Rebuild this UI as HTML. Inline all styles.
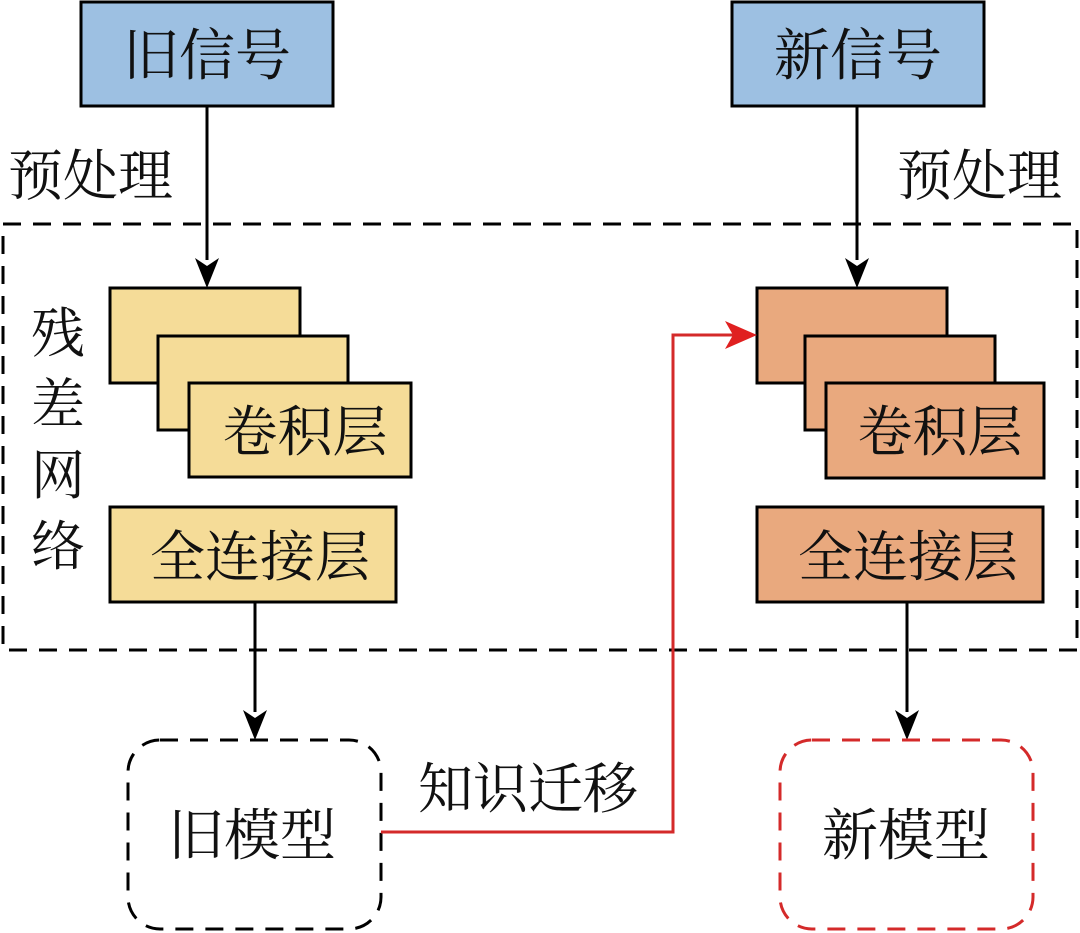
<!DOCTYPE html>
<html><head><meta charset="utf-8"><style>
html,body{margin:0;padding:0;background:#fff;width:1080px;height:933px;overflow:hidden}
svg text{font-family:"Noto Serif CJK SC","Liberation Serif",serif;fill:#111}
</style></head><body>
<svg width="1080" height="933" viewBox="0 0 1080 933" xmlns="http://www.w3.org/2000/svg">
<rect x="3" y="224" width="1074" height="426" fill="none" stroke="#000" stroke-width="3" stroke-dasharray="18,12"/>
<rect x="81" y="2" width="252" height="104" fill="#9dc0e2" stroke="#000" stroke-width="3"/>
<text x="207" y="75" font-size="56" text-anchor="middle">旧信号</text>
<rect x="732" y="2" width="252" height="104" fill="#9dc0e2" stroke="#000" stroke-width="3"/>
<text x="858" y="75" font-size="56" text-anchor="middle">新信号</text>
<text x="8" y="195" font-size="55">预处理</text>
<text x="897" y="195" font-size="55">预处理</text>
<line x1="207" y1="106" x2="207" y2="260" stroke="#000" stroke-width="3"/>
<path d="M195,258 L207,288 L219,258 L207,266 Z" fill="#000"/>
<line x1="857" y1="106" x2="857" y2="260" stroke="#000" stroke-width="3"/>
<path d="M845,258 L857,288 L869,258 L857,266 Z" fill="#000"/>
<g fill="#f5dc98" stroke="#000" stroke-width="3">
<rect x="110" y="288" width="190" height="95"/>
<rect x="158" y="336" width="190" height="94"/>
<rect x="189" y="383" width="222" height="94"/>
<rect x="110" y="507" width="286" height="95"/>
</g>
<text x="305" y="451" font-size="55" text-anchor="middle">卷积层</text>
<text x="260" y="576" font-size="55" text-anchor="middle">全连接层</text>
<g font-size="54" text-anchor="middle">
<text x="58" y="352">残</text><text x="58" y="423">差</text><text x="58" y="494">网</text><text x="58" y="565">络</text>
</g>
<g fill="#e9a97e" stroke="#000" stroke-width="3">
<rect x="757" y="288" width="190" height="95"/>
<rect x="805" y="336" width="190" height="94"/>
<rect x="826" y="383" width="218" height="95"/>
<rect x="757" y="507" width="286" height="95"/>
</g>
<text x="940" y="451" font-size="55" text-anchor="middle">卷积层</text>
<text x="908" y="576" font-size="55" text-anchor="middle">全连接层</text>
<line x1="255" y1="602" x2="255" y2="712" stroke="#000" stroke-width="3"/>
<path d="M243,710 L255,740 L267,710 L255,718 Z" fill="#000"/>
<line x1="907" y1="602" x2="907" y2="712" stroke="#000" stroke-width="3"/>
<path d="M895,710 L907,740 L919,710 L907,718 Z" fill="#000"/>
<rect x="128" y="740" width="253" height="189" rx="32" fill="none" stroke="#000" stroke-width="3" stroke-dasharray="18,12"/>
<text x="252" y="855" font-size="56" text-anchor="middle">旧模型</text>
<rect x="780" y="740" width="253" height="189" rx="32" fill="none" stroke="#d42a2a" stroke-width="3" stroke-dasharray="18,12"/>
<text x="906" y="855" font-size="56" text-anchor="middle">新模型</text>
<polyline points="381,832 673,832 673,335 735,335" fill="none" stroke="#d42a2a" stroke-width="3"/>
<path d="M725,321 L757,335 L725,349 L733,335 Z" fill="#e02020"/>
<text x="418" y="808" font-size="55">知识迁移</text>
</svg>
</body></html>
